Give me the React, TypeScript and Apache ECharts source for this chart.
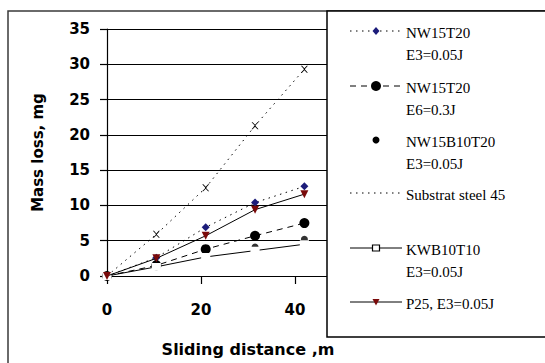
import React, { useEffect, useRef } from "react";
import * as echarts from "echarts";

// ---- data ----
const distance = [0, 10.5, 21, 31.5, 42];
const nw15t20E3 = [0, 2.6, 6.9, 10.4, 12.7];
const nw15t20E6 = [0, 1.5, 3.8, 5.7, 7.5];
const nw15b10t20E3 = [0, 1.8, 3.1, 4.1, 5.2];
const substratSteel45 = [0, 5.9, 12.5, 21.3, 29.3];
const kwb10t10E3 = [0, 1.3, 2.7, 3.6, 4.5];
const p25E3 = [0, 2.5, 5.7, 9.4, 11.6];

const legendNames = [
  "NW15T20\nE3=0.05J",
  "NW15T20\nE6=0.3J",
  "NW15B10T20\nE3=0.05J",
  "Substrat steel 45",
  "KWB10T10\nE3=0.05J",
  "P25, E3=0.05J",
];
const xTicks = [0, 20, 40, 60];
const yTicks = [0, 5, 10, 15, 20, 25, 30, 35];

const X_SYMBOL =
  "path://M0,0L1.6,0L5,3.6L8.4,0L10,0L5.8,4.5L5.8,5.5L10,10L8.4,10L5,6.4L1.6,10L0,10L4.2,5.5L4.2,4.5Z";

type Style = {
  data: number[];
  line: "dotted" | "dashed" | "solid" | "none";
  marker: "diamond" | "circle" | "dot" | "x" | "square" | "triangle";
  markerColor: string;
  size: number;
};

const styles: Style[] = [
  { data: nw15t20E3, line: "dotted", marker: "diamond", markerColor: "#1c1c7a", size: 8 },
  { data: nw15t20E6, line: "dashed", marker: "circle", markerColor: "#000", size: 10 },
  { data: nw15b10t20E3, line: "none", marker: "dot", markerColor: "#000", size: 7 },
  { data: substratSteel45, line: "dotted", marker: "x", markerColor: "#000", size: 7 },
  { data: kwb10t10E3, line: "solid", marker: "square", markerColor: "#000", size: 7 },
  { data: p25E3, line: "solid", marker: "triangle", markerColor: "#7a0a0a", size: 8 },
];

const dashFor = (l: string): any =>
  l === "dotted" ? [1.5, 4.5] : l === "dashed" ? [6, 5] : "solid";

const symbolFor = (m: string) =>
  m === "diamond"
    ? "diamond"
    : m === "circle" || m === "dot"
    ? "circle"
    : m === "x"
    ? X_SYMBOL
    : m === "square"
    ? "emptyRect"
    : "triangle";

function legendMarker(s: Style, cx: number, cy: number): any {
  const c = s.markerColor;
  const h = s.size / 2;
  switch (s.marker) {
    case "diamond":
      return { type: "polygon", shape: { points: [[cx, cy - 4], [cx + 3.5, cy], [cx, cy + 4], [cx - 3.5, cy]] }, style: { fill: c } };
    case "circle":
      return { type: "circle", shape: { cx, cy, r: 5 }, style: { fill: c } };
    case "dot":
      return { type: "circle", shape: { cx, cy, r: 3.5 }, style: { fill: c } };
    case "x":
      return {
        type: "group",
        children: [
          { type: "line", shape: { x1: cx - 3, y1: cy - 3, x2: cx + 3, y2: cy + 3 }, style: { stroke: c, lineWidth: 1.2 } },
          { type: "line", shape: { x1: cx + 3, y1: cy - 3, x2: cx - 3, y2: cy + 3 }, style: { stroke: c, lineWidth: 1.2 } },
        ],
      };
    case "square":
      return { type: "rect", shape: { x: cx - h, y: cy - 3, width: s.size, height: 6 }, style: { fill: "#fff", stroke: c, lineWidth: 1.2 } };
    default:
      return { type: "polygon", shape: { points: [[cx - 3.5, cy - 3], [cx + 3.5, cy - 3], [cx, cy + 3.5]] }, style: { fill: c } };
  }
}

export default function App() {
  const ref = useRef<HTMLDivElement>(null);

  useEffect(() => {
    if (!ref.current) return;
    const chart = echarts.init(ref.current, undefined, { renderer: "svg" });

    const axisFont = { fontFamily: "DejaVu Sans", fontWeight: "bold" as const, color: "#000" };

    const series: any[] = styles.map((s, i) => {
      const pts = distance.map((d, j) => [d, s.data[j]]);
      const base: any = {
        name: legendNames[i],
        data: pts,
        symbol: symbolFor(s.marker),
        symbolSize: s.marker === "square" ? [7, 6] : s.marker === "triangle" ? 8 : s.size,
        symbolRotate: s.marker === "triangle" ? 180 : 0,
        itemStyle: { color: s.marker === "square" ? "#fff" : s.markerColor, borderColor: s.markerColor, borderWidth: s.marker === "square" ? 1.3 : 0 },
        silent: true,
        emphasis: { disabled: true },
        z: 3 + i,
      };
      if (s.line === "none") return { ...base, type: "scatter" };
      return {
        ...base,
        type: "line",
        showSymbol: true,
        lineStyle: { color: "#000", width: 1, type: dashFor(s.line) },
      };
    });

    const entryY = [31, 86, 140, 193, 248, 302];
    const legendGraphics: any[] = [];
    styles.forEach((s, i) => {
      const y = entryY[i];
      if (s.line !== "none") {
        legendGraphics.push({
          type: "line",
          shape: { x1: 350, y1: y, x2: 402, y2: y },
          style: { stroke: "#000", lineWidth: 1, lineDash: s.line === "solid" ? null : dashFor(s.line) },
          z: 101,
        });
      }
      const mk = legendMarker(s, 376, y);
      mk.z = 102;
      legendGraphics.push(mk);
      legendGraphics.push({
        type: "text",
        x: 406,
        y: y - 9,
        z: 102,
        style: {
          text: legendNames[i],
          fontFamily: "Liberation Serif",
          fontSize: 15,
          lineHeight: 22,
          fill: "#000",
          verticalAlign: "top",
        },
      });
    });

    chart.setOption({
      animation: false,
      backgroundColor: "#fff",
      grid: { left: 107, right: 156, top: 29, bottom: 87, show: false },
      xAxis: {
        type: "value",
        min: xTicks[0],
        max: xTicks[xTicks.length - 1],
        interval: xTicks[1] - xTicks[0],
        axisLine: { show: true, onZero: false, lineStyle: { color: "#000", width: 1.2 } },
        axisTick: { show: true, inside: false, length: 8, lineStyle: { color: "#000", width: 1.2 } },
        splitLine: { show: false, lineStyle: { color: "rgba(0,0,0,0)", width: 0 } },
        axisLabel: { ...axisFont, fontSize: 15, margin: 26 },
        name: "Sliding distance ,m",
        nameLocation: "middle",
        nameGap: 65,
        nameTextStyle: { ...axisFont, fontSize: 16 },
      },
      yAxis: {
        type: "value",
        min: yTicks[0],
        max: yTicks[yTicks.length - 1],
        interval: yTicks[1] - yTicks[0],
        axisLine: { show: true, lineStyle: { color: "#000", width: 1.2 } },
        axisTick: { show: true, length: 7, lineStyle: { color: "#000", width: 1.2 } },
        splitLine: { show: true, lineStyle: { color: "#000", width: 1.2 } },
        axisLabel: { ...axisFont, fontSize: 15, margin: 17 },
        name: "Mass loss, mg",
        nameLocation: "middle",
        nameGap: 62,
        nameRotate: 90,
        nameTextStyle: { ...axisFont, fontSize: 15 },
      },
      series,
      graphic: [
        {
          type: "rect",
          shape: { x: 8, y: 11, width: 700, height: 500 },
          style: { fill: "none", stroke: "#3a3a3a", lineWidth: 1.5 },
          z: 100,
          silent: true,
        },
        {
          type: "rect",
          shape: { x: 327, y: 11, width: 400, height: 326 },
          style: { fill: "#fff", stroke: "#000", lineWidth: 1.5 },
          z: 100,
          silent: true,
        },
        ...legendGraphics,
      ],
    });

    return () => chart.dispose();
  }, []);

  return (
    <div
      ref={ref}
      style={{ position: "fixed", left: 0, top: 0, width: 545, height: 363 }}
    />
  );
}
